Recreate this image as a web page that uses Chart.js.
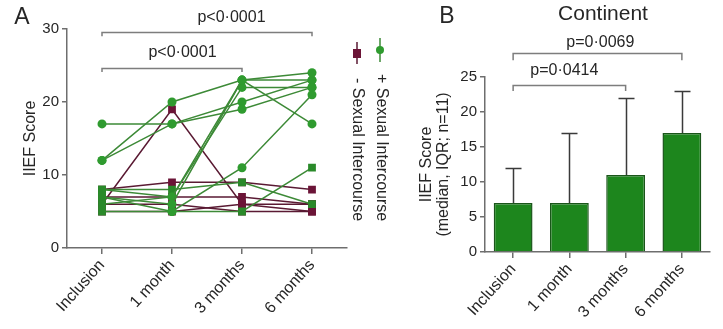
<!DOCTYPE html>
<html>
<head>
<meta charset="utf-8">
<script src="https://cdn.jsdelivr.net/npm/chart.js@4.4.1/dist/chart.umd.min.js"></script>
<style>
    html, body { margin: 0; padding: 0; background: #fff; }
    #wrapA { position: absolute; left: 0; top: 0; width: 395px; height: 329px; }
    #wrapB { position: absolute; left: 395px; top: 0; width: 328px; height: 329px; }
</style>
</head>
<body>
<div id="wrapA"><canvas id="chartA"></canvas></div>
<div id="wrapB"><canvas id="chartB"></canvas></div>
<script>
const timepoints = ['Inclusion', '1 month', '3 months', '6 months'];

// Panel A: IIEF score of each patient at every visit
const plusPatients = [
    [17, 17, 19, 22],
    [12, 20, 23, 24],
    [12, 17, 20, 23],
    [7, 6, 23, 17],
    [6, 7, 22, 22],
    [5, 5, 11, 21],
    [8, 7, 23, 23],
    [7, 5, 5, 11],
    [8, 8, 9, 6],
];
// Intercourse reported at each visit for the patients above
const plusVisits = [
    ['+', '+', '+', '+'],
    ['+', '+', '+', '+'],
    ['+', '+', '+', '+'],
    ['-', '+', '+', '+'],
    ['-', '+', '+', '+'],
    ['-', '+', '+', '+'],
    ['-', '+', '+', '+'],
    ['-', '+', '-', '-'],
    ['-', '-', '-', '-'],
];
const minusPatients = [
    [6, 19, 6, 6],
    [8, 9, 9, 8],
    [7, 7, 7, 6],
    [5, 5, 6, 5],
    [6, 6, 5, 5],
];
const legendLabels = ['+ Sexual Intercourse', '- Sexual Intercourse'];
const pValuesA = ['p<0·0001', 'p<0·0001'];

// Panel B: continent patients, median and upper quartile
const continentMedian = [7, 7, 11, 17];
const continentUpper = [12, 17, 22, 23];
const pValuesB = ['p=0·0069', 'p=0·0414'];

const FONT = "'Liberation Sans', Arial, sans-serif";
const AXIS = '#6e6e6e';
const TEXT = '#262626';
const GREEN = '#2f9b2f';
const GREEN_LINE = '#3d8a37';
const MAROON = '#6b1437';
const MAROON_LINE = '#5a1a33';

/**
 * Draw significance brackets with their p value above
 */
const pluginBrackets = {
    id: 'brackets',
    afterDraw: function(chart, args, opts) {
        'use strict';
        const ctx = chart.ctx;
        const x = chart.scales.x;
        const y = chart.scales.y;
        ctx.save();
        ctx.strokeStyle = '#7d7d7d';
        ctx.lineWidth = 1.5;
        ctx.fillStyle = TEXT;
        ctx.font = '16px ' + FONT;
        ctx.textAlign = 'center';
        ctx.textBaseline = 'middle';
        for (const b of opts.items) {
            const x0 = x.getPixelForValue(b.from);
            const x1 = x.getPixelForValue(b.to);
            const yb = Math.round(y.getPixelForValue(b.level)) + 0.5;
            const yd = y.getPixelForValue(b.level - b.drop);
            ctx.beginPath();
            ctx.moveTo(x0, yd);
            ctx.lineTo(x0, yb);
            ctx.lineTo(x1, yb);
            ctx.lineTo(x1, yd);
            ctx.stroke();
            ctx.fillText(b.text, x.getPixelForValue(b.textAt), y.getPixelForValue(b.textLevel));
        }
        ctx.restore();
    },
};

/**
 * Panel letters and titles
 */
const pluginLabels = {
    id: 'labels',
    afterDraw: function(chart, args, opts) {
        'use strict';
        const ctx = chart.ctx;
        ctx.save();
        ctx.fillStyle = TEXT;
        ctx.textAlign = 'center';
        ctx.textBaseline = 'middle';
        for (const item of opts.items) {
            ctx.font = item.size + 'px ' + FONT;
            ctx.fillText(item.text, item.x, item.y);
        }
        ctx.restore();
    },
};

/**
 * Vertical legend, rotated clockwise, next to panel A
 */
const pluginSideLegend = {
    id: 'sideLegend',
    afterDraw: function(chart, args, opts) {
        'use strict';
        const ctx = chart.ctx;
        ctx.save();
        ctx.lineWidth = 1.5;
        // + entry
        ctx.strokeStyle = GREEN_LINE;
        ctx.beginPath();
        ctx.moveTo(380, 38);
        ctx.lineTo(380, 62);
        ctx.stroke();
        ctx.fillStyle = GREEN;
        ctx.beginPath();
        ctx.arc(380, 50, 4, 0, Math.PI * 2);
        ctx.fill();
        // - entry
        ctx.strokeStyle = MAROON_LINE;
        ctx.beginPath();
        ctx.moveTo(357, 42);
        ctx.lineTo(357, 64);
        ctx.stroke();
        ctx.fillStyle = MAROON;
        ctx.fillRect(353, 49, 8, 9);

        ctx.fillStyle = TEXT;
        ctx.font = '16px ' + FONT;
        ctx.textAlign = 'left';
        ctx.textBaseline = 'middle';
        const spots = [[381, 74], [357, 78]];
        opts.labels.forEach(function(text, i) {
            ctx.save();
            ctx.translate(spots[i][0], spots[i][1]);
            ctx.rotate(Math.PI / 2);
            ctx.fillText(text, 0, 0);
            ctx.restore();
        });
        ctx.restore();
    },
};

/**
 * Upper quartile whiskers on the bars
 */
const pluginWhiskers = {
    id: 'whiskers',
    afterDatasetsDraw: function(chart, args, opts) {
        'use strict';
        const ctx = chart.ctx;
        const y = chart.scales.y;
        const meta = chart.getDatasetMeta(0);
        ctx.save();
        ctx.strokeStyle = '#3a3a3a';
        ctx.lineWidth = 1.5;
        meta.data.forEach(function(bar, i) {
            const top = Math.round(y.getPixelForValue(opts.upper[i])) + 0.5;
            const bx = Math.round(bar.x) + 0.5;
            ctx.beginPath();
            ctx.moveTo(bx, bar.y);
            ctx.lineTo(bx, top);
            ctx.moveTo(bx - 8, top);
            ctx.lineTo(bx + 8, top);
            ctx.stroke();
        });
        ctx.restore();
    },
};

function axisX(height) {
    return {
        offset: true,
        grid: {
            display: true,
            drawOnChartArea: false,
            drawTicks: true,
            tickLength: 6,
            color: AXIS,
            lineWidth: 1.5,
            offset: false,
        },
        border: {color: AXIS, width: 1.5},
        ticks: {
            minRotation: 48,
            maxRotation: 48,
            autoSkip: false,
            color: TEXT,
            padding: 2,
            font: {family: FONT, size: 16},
        },
        afterFit: function(scale) {
            scale.height = height;
        },
    };
}

function axisY(max, step, width, title, titlePad) {
    return {
        min: 0,
        max: max,
        grid: {
            display: true,
            drawOnChartArea: false,
            drawTicks: true,
            tickLength: 5,
            color: AXIS,
            lineWidth: 1.5,
        },
        border: {color: AXIS, width: 1.5},
        ticks: {
            stepSize: step,
            color: TEXT,
            padding: 3,
            font: {family: FONT, size: 15},
        },
        title: {
            display: true,
            text: title,
            color: TEXT,
            font: {family: FONT, size: 16, lineHeight: 1.05},
            padding: {top: titlePad, bottom: 0},
        },
        afterFit: function(scale) {
            scale.width = width;
        },
    };
}

// Panel A datasets: green first so it is drawn on top
const datasetsA = [];
plusPatients.forEach(function(values, i) {
    const visits = plusVisits[i];
    datasetsA.push({
        data: values,
        borderColor: GREEN_LINE,
        borderWidth: 1.5,
        pointStyle: visits.map(v => v === '+' ? 'circle' : 'rect'),
        pointRadius: visits.map(v => v === '+' ? 4.5 : 5.5),
        pointBackgroundColor: visits.map(v => v === '+' ? GREEN : '#2a8a2a'),
        pointBorderWidth: 0,
    });
});
for (const values of minusPatients) {
    datasetsA.push({
        data: values,
        borderColor: MAROON_LINE,
        borderWidth: 1.5,
        pointStyle: 'rect',
        pointRadius: 5.5,
        pointBackgroundColor: MAROON,
        pointBorderColor: MAROON,
        pointBorderWidth: 0,
    });
}

new Chart(document.getElementById('chartA'), {
    type: 'line',
    data: {labels: timepoints, datasets: datasetsA},
    options: {
        responsive: true,
        maintainAspectRatio: false,
        animation: false,
        layout: {padding: {top: 29, right: 48, left: 0, bottom: 0}},
        scales: {
            x: axisX(81),
            y: axisY(30, 10, 67, 'IIEF Score', 22),
        },
        plugins: {
            legend: {display: false},
            tooltip: {enabled: false},
            brackets: {
                items: [
                    {from: 0, to: 3, level: 29.6, drop: 0.6, text: pValuesA[0], textAt: 1.85, textLevel: 31.5},
                    {from: 0, to: 2, level: 24.7, drop: 0.6, text: pValuesA[1], textAt: 1.15, textLevel: 26.7},
                ],
            },
            labels: {items: [{text: 'A', x: 22, y: 18, size: 23}]},
            sideLegend: {labels: legendLabels},
        },
    },
    plugins: [pluginBrackets, pluginLabels, pluginSideLegend],
});

new Chart(document.getElementById('chartB'), {
    type: 'bar',
    data: {
        labels: timepoints,
        datasets: [{
            data: continentMedian,
            backgroundColor: '#1d861d',
            borderColor: '#1a561a',
            borderWidth: 1.5,
            barPercentage: 0.69,
            categoryPercentage: 1,
        }],
    },
    options: {
        responsive: true,
        maintainAspectRatio: false,
        animation: false,
        layout: {padding: {top: 77, right: 13, left: 0, bottom: 0}},
        scales: {
            x: axisX(77),
            y: axisY(25, 5, 90, ['IIEF Score', '(median, IQR; n=11)'], 23),
        },
        plugins: {
            legend: {display: false},
            tooltip: {enabled: false},
            whiskers: {upper: continentUpper},
            brackets: {
                items: [
                    {from: 0, to: 3, level: 28.4, drop: 1.0, text: pValuesB[0], textAt: 1.55, textLevel: 29.9},
                    {from: 0, to: 2, level: 23.9, drop: 0.9, text: pValuesB[1], textAt: 0.91, textLevel: 25.9},
                ],
            },
            labels: {
                items: [
                    {text: 'B', x: 52, y: 17, size: 23},
                    {text: 'Continent', x: 208, y: 14, size: 21},
                ],
            },
        },
    },
    plugins: [pluginWhiskers, pluginBrackets, pluginLabels],
});
</script>
</body>
</html>
